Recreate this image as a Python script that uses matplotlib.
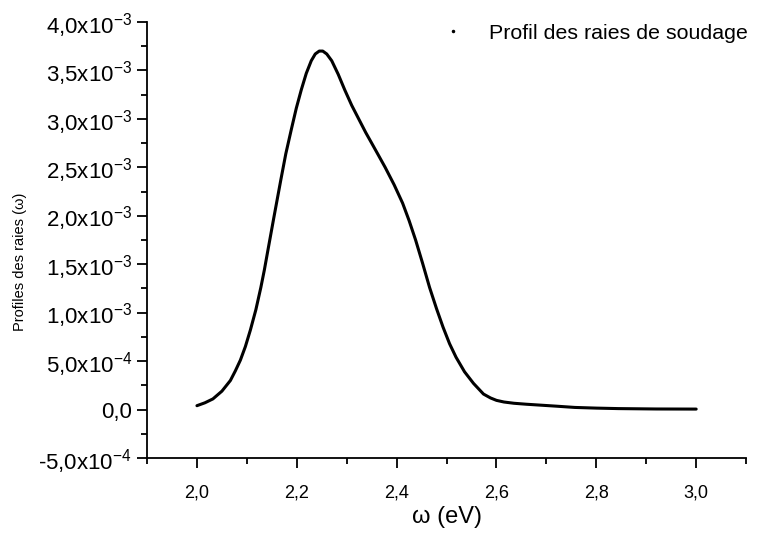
import matplotlib.pyplot as plt
from matplotlib.lines import Line2D

plt.rcParams["font.family"] = ["Liberation Sans", "DejaVu Sans"]
plt.rcParams["mathtext.fontset"] = "custom"
plt.rcParams["mathtext.rm"] = "Liberation Sans"
plt.rcParams["mathtext.it"] = "Liberation Sans:italic"

# Values (omega in eV, profile in units of 1e-3)
omega = [2.000, 2.016, 2.032, 2.050, 2.067, 2.077, 2.087, 2.097, 2.107, 2.118,
         2.128, 2.135, 2.142, 2.154, 2.168, 2.178, 2.189, 2.199, 2.209, 2.219,
         2.229, 2.237, 2.245, 2.252, 2.260, 2.270, 2.283, 2.296, 2.310, 2.325,
         2.338, 2.350, 2.363, 2.377, 2.395, 2.412, 2.425, 2.438, 2.452, 2.466,
         2.480, 2.493, 2.506, 2.519, 2.536, 2.554, 2.574, 2.588, 2.600, 2.615,
         2.635, 2.660, 2.690, 2.720, 2.757, 2.800, 2.844, 2.920, 3.000]
profil_e3 = [0.04, 0.07, 0.11, 0.19, 0.30, 0.40, 0.51, 0.65, 0.82, 1.03,
             1.26, 1.44, 1.64, 1.98, 2.37, 2.64, 2.89, 3.11, 3.30, 3.47,
             3.60, 3.67, 3.70, 3.70, 3.67, 3.60, 3.46, 3.30, 3.14, 2.99,
             2.86, 2.75, 2.63, 2.50, 2.32, 2.13, 1.95, 1.75, 1.51, 1.26,
             1.04, 0.85, 0.68, 0.54, 0.39, 0.27, 0.16, 0.12, 0.095, 0.078,
             0.065, 0.055, 0.045, 0.035, 0.022, 0.015, 0.010, 0.006, 0.005]
profil = [v * 1e-3 for v in profil_e3]

xticks = [2.0, 2.2, 2.4, 2.6, 2.8, 3.0]
xtick_labels = ["2,0", "2,2", "2,4", "2,6", "2,8", "3,0"]
yticks = [-5e-4, 0.0, 5e-4, 1e-3, 1.5e-3, 2e-3, 2.5e-3, 3e-3, 3.5e-3, 4e-3]
ytick_labels = [r"-5,0x10$^{-4}$", "0,0", r"5,0x10$^{-4}$", r"1,0x10$^{-3}$",
                r"1,5x10$^{-3}$", r"2,0x10$^{-3}$", r"2,5x10$^{-3}$",
                r"3,0x10$^{-3}$", r"3,5x10$^{-3}$", r"4,0x10$^{-3}$"]

fig = plt.figure(figsize=(7.59, 5.34), dpi=100)
ax = fig.add_axes([0.1937, 0.1423, 0.7893, 0.8165])

ax.plot(omega, profil, color="black", lw=2.2, solid_capstyle="round",
        solid_joinstyle="round")

ax.set_xlim(1.9, 3.1)
ax.set_ylim(-5e-4, 4e-3)
ax.set_xticks(xticks)
ax.set_xticklabels(xtick_labels, fontsize=13)
ax.set_yticks(yticks)
ax.set_yticklabels(ytick_labels, fontsize=16)
ax.set_xticks([1.9, 2.1, 2.3, 2.5, 2.7, 2.9, 3.1], minor=True)
ax.set_yticks([y + 2.5e-4 for y in yticks[:-1]], minor=True)

for s in ["top", "right"]:
    ax.spines[s].set_visible(False)
for s in ["left", "bottom"]:
    ax.spines[s].set_linewidth(1.3)
ax.tick_params(which="major", direction="out", length=7, width=1.3, pad=4)
ax.tick_params(which="minor", direction="out", length=4, width=1.3)
ax.tick_params(axis="x", which="major", pad=12)

ax.set_xlabel("ω (eV)", fontsize=17, labelpad=3)
ax.set_ylabel("Profiles des raies (ω)", fontsize=10.5)
ax.yaxis.set_label_coords(-0.2, 0.45)

proxy = Line2D([], [], color="black", ls="none", marker=".", markersize=3)
ax.legend([proxy], ["Profil des raies de soudage"], loc="upper right",
          bbox_to_anchor=(1.035, 1.04), frameon=False, fontsize=15.4,
          handlelength=1.2, handletextpad=1.1)

fig.savefig("out.png", dpi=100)
